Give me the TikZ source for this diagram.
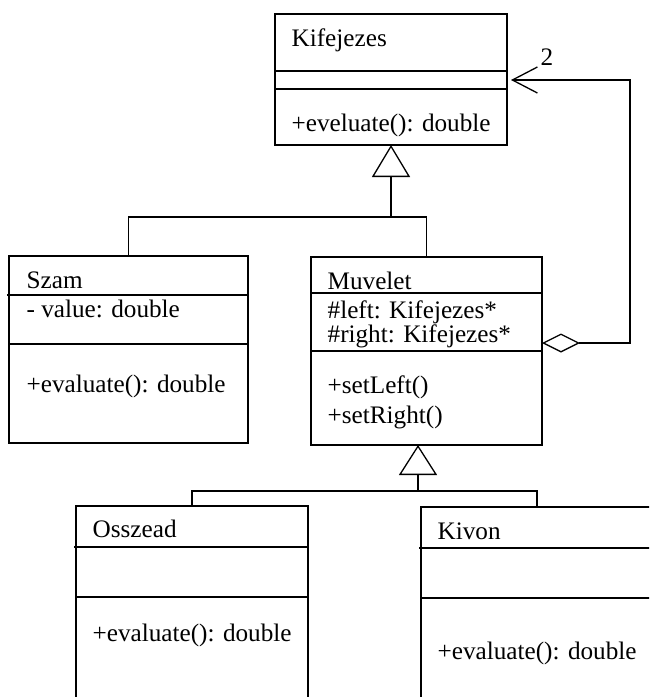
\documentclass[tikz,border=0pt]{standalone}
\usepackage{fontspec}
\setmainfont{Liberation Serif}
\usetikzlibrary{arrows.meta}
\begin{document}
\begin{tikzpicture}[x=1pt, y=-1pt, line width=1.3pt,
    umlclass/.style={draw, anchor=north west, inner sep=0pt, outer sep=0pt, minimum width=232pt},
    txt/.style={anchor=base west, inner sep=0pt, font=\fontsize{25.2}{30}\selectfont}]
  \useasboundingbox (0,0) rectangle (649,697);
  \clip (0,0) rectangle (649,697);

  % Kifejezes
  \node[umlclass, minimum height=131pt] (kifejezes) at (275,14) {};
  \draw (275,71) -- (507,71);
  \draw (275,89) -- (507,89);
  \node[txt] (kifname) at (291,46) {Kifejezes};
  \node[txt] (kifop) at (291,131) {+eveluate(): double};

  % Szam
  \node[umlclass, minimum width=239pt, minimum height=187pt] (szam) at (9,256) {};
  \draw (7,295) -- (248,295);
  \draw (9,344) -- (248,344);
  \node[txt] (szamname) at (26,288) {Szam};
  \node[txt] (szamattr) at (26,317) {- value: double};
  \node[txt] (szamop) at (26,392) {+evaluate(): double};

  % Muvelet
  \node[umlclass, minimum width=231pt, minimum height=188pt] (muvelet) at (311,257) {};
  \draw (311,293) -- (542,293);
  \draw (311,351) -- (542,351);
  \node[txt] (muvname) at (327,289) {Muvelet};
  \node[txt] (muvleft) at (327,318) {\#left: Kifejezes*};
  \node[txt] (muvright) at (327,342) {\#right: Kifejezes*};
  \node[txt] (muvsetl) at (327,393) {+setLeft()};
  \node[txt] (muvsetr) at (327,423) {+setRight()};

  % Osszead
  \node[umlclass, minimum height=260pt] (osszead) at (76,506) {};
  \draw (74,547) -- (308,547);
  \draw (76,597) -- (308,597);
  \node[txt] (ossname) at (92,537) {Osszead};
  \node[txt] (ossop) at (92,641) {+evaluate(): double};

  % Kivon
  \node[umlclass, minimum height=260pt] (kivon) at (421,507) {};
  \draw (419,548) -- (653,548);
  \draw (421,598) -- (653,598);
  \node[txt] (kivname) at (437,539) {Kivon};
  \node[txt] (kivop) at (437,659) {+evaluate(): double};

  % generalizations
  \coordinate (j1) at (391,217);
  \draw (szam.north) |- (j1) -| (muvelet.north);
  \draw[-{Triangle[open, length=32pt, width=38pt]}] (j1) -- (kifejezes.south);

  \coordinate (j2) at (418,491);
  \draw (osszead.north) |- (j2) -| (kivon.north);
  \draw[-{Triangle[open, length=30pt, width=38pt]}] (j2) -- (j2 |- muvelet.south);

  % aggregation
  \coordinate (agg) at (542,343);
  \coordinate (assoc) at (511,80);
  \draw[{Diamond[open, length=38pt, width=19pt]}-{Straight Barb[length=25pt, width=26pt]}]
    (agg) -- (630,343) -- (630,80) -- (assoc);
  \node[txt] (mult) at (540,65) {2};
\end{tikzpicture}
\end{document}
